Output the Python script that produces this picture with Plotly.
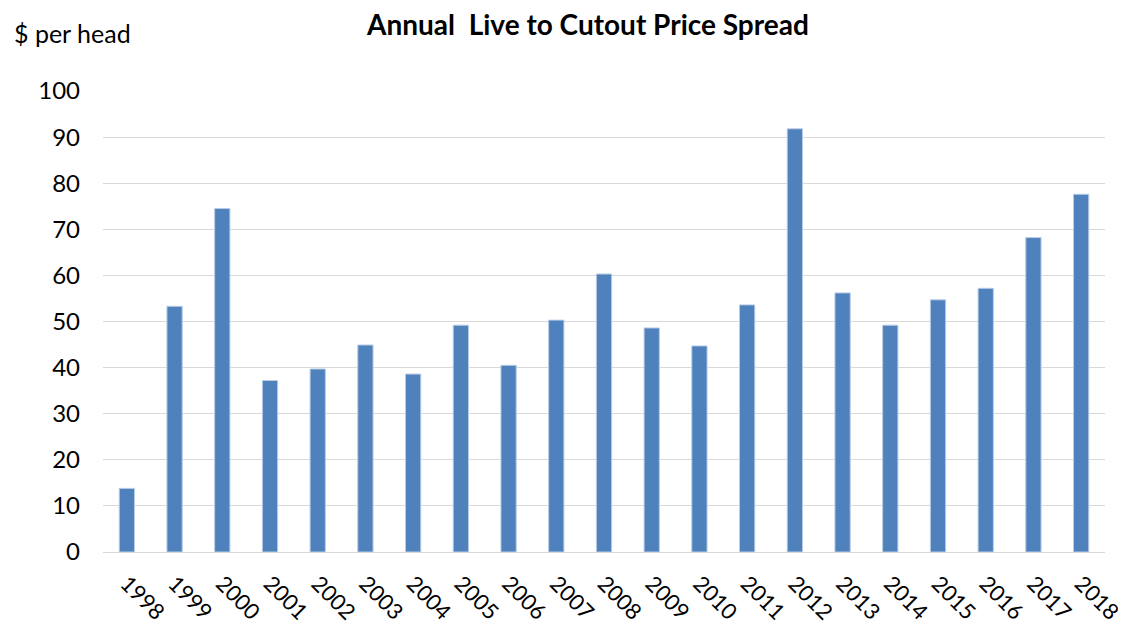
import plotly.graph_objects as go

years = [str(y) for y in range(1998, 2019)]
spread = [13.8, 53.3, 74.5, 37.2, 39.7, 44.9, 38.6, 49.2, 40.5, 50.3, 60.3,
          48.6, 44.7, 53.6, 91.8, 56.2, 49.2, 54.7, 57.2, 68.2, 77.6]
y_ticks = list(range(0, 101, 10))

FONT = "Lato, 'Open Sans', sans-serif"

fig = go.Figure()
fig.add_trace(go.Bar(
    x=years, y=spread,
    marker=dict(color="#4f81bd", line=dict(color="#b9cde5", width=1)),
))

fig.update_layout(
    width=1118, height=620,
    margin=dict(l=95, r=21, t=83, b=76, autoexpand=False),
    paper_bgcolor="white", plot_bgcolor="white",
    bargap=0.68,
    showlegend=False,
    font=dict(family=FONT, size=25, color="#000000"),
    title=dict(text="<b>Annual  Live to Cutout Price Spread</b>",
               x=0.484, xanchor="center", xref="paper",
               y=0.973, yanchor="middle",
               font=dict(family=FONT, size=28, color="#000000")),
    xaxis=dict(tickangle=45, showgrid=False, showline=True,
               linecolor="#d9d9d9", linewidth=1, ticks="",
               ticklabelstandoff=9, automargin=False,
               tickfont=dict(size=22)),
    yaxis=dict(range=[0, 100], tickvals=y_ticks, showgrid=True,
               gridcolor="#d9d9d9", gridwidth=1, zeroline=False,
               automargin=False,
               ticks="", ticklabelstandoff=22, tickfont=dict(size=24)),
    annotations=[dict(text="$ per head", xref="paper", yref="paper",
                      x=-0.0908, y=1.126, xanchor="left", yanchor="middle",
                      showarrow=False, font=dict(family=FONT, size=25))],
)

fig.write_html("out.html")
